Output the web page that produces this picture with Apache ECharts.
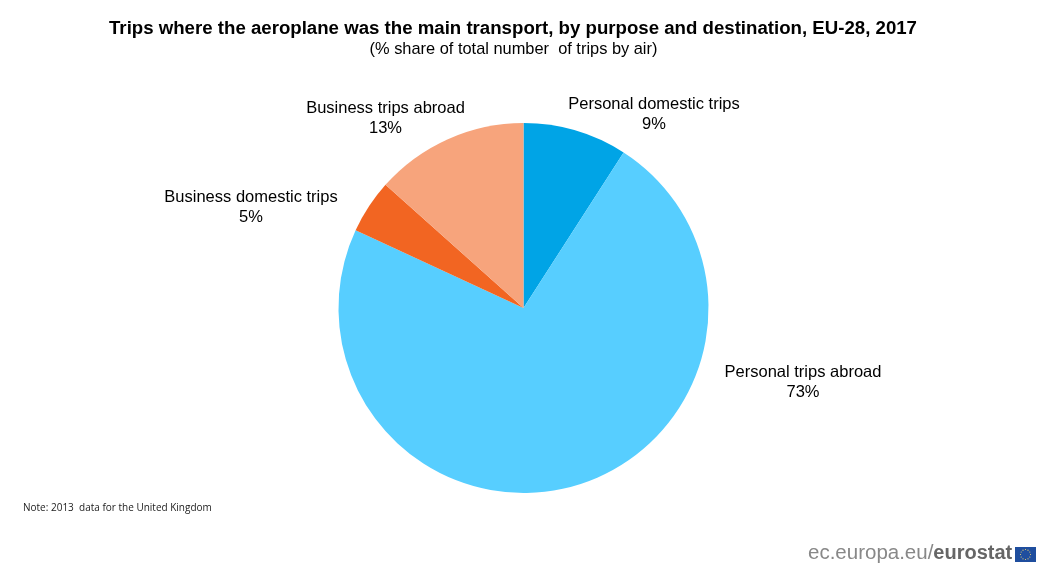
<!DOCTYPE html>
<html><head><meta charset="utf-8">
<style>html,body{margin:0;padding:0;background:#fff}#c{width:1050px;height:575px}</style>
<script src="https://cdn.jsdelivr.net/npm/echarts@6/dist/echarts.min.js"></script>
</head><body><div id="c"></div>
<script>
const categories = ['Personal domestic trips','Personal trips abroad','Business domestic trips','Business trips abroad'];
const values = [9.1,72.8,4.7,13.4];
const colors = ['#00A4E6','#57CEFF','#F26522','#F7A47C'];
const labelAnchors = [[654,114.6],[803,382.6],[251,207.6],[385.5,118.6]];
const chart = echarts.init(document.getElementById('c'),null,{renderer:'canvas'});
const F = '"Liberation Sans",Arial,sans-serif';
const starCount = 12;
const stars = Array.from({length:starCount},(_,i)=>{
  const a=i/starCount*2*Math.PI;
  return {type:'circle',silent:true,shape:{cx:1025.5+5*Math.cos(a),cy:554.5+5*Math.sin(a),r:0.55},style:{fill:'#F5D76E'}};
});
chart.setOption({
  animation:false,
  backgroundColor:'#fff',
  title:[
    {text:'Trips where the aeroplane was the main transport, by purpose and destination, EU-28, 2017',left:508,top:14,textAlign:'center',
     textStyle:{fontFamily:F,fontSize:18.65,fontWeight:'bold',color:'#000'}},
    {text:'(% share of total number  of trips by air)',left:508.5,top:36,textAlign:'center',
     textStyle:{fontFamily:F,fontSize:16.4,fontWeight:'normal',color:'#000'}}
  ],
  series:[{
    type:'pie',center:[523.5,308],radius:[0,185],startAngle:90,clockwise:true,
    data:categories.map((n,i)=>({name:n,value:values[i],itemStyle:{color:colors[i]}})),
    itemStyle:{borderColor:'#fff',borderWidth:0},
    emphasis:{disabled:true},
    label:{show:true,position:'outside',formatter:p=>p.name+'\n'+Math.round(p.value)+'%',fontFamily:F,fontSize:16.5,lineHeight:19.5,color:'#000',align:'center',verticalAlign:'middle'},
    labelLine:{show:false},
    labelLayout:p=>({x:labelAnchors[p.dataIndex][0],y:labelAnchors[p.dataIndex][1],align:'center',verticalAlign:'middle'})
  }],
  graphic:[
    {type:'text',left:23,top:503,silent:true,style:{text:'Note: 2013  data for the United Kingdom',font:'10px "Open Sans",sans-serif',fill:'#222'}},
    {type:'text',left:808,top:543,silent:true,style:{
      text:'{a|ec.europa.eu/}{b|eurostat}',
      rich:{a:{font:'20.5px "Liberation Sans",Arial,sans-serif',fill:'#888',color:'#888'},
            b:{font:'bold 20px "Liberation Sans",Arial,sans-serif',fill:'#666',color:'#666'}}}},
    {type:'rect',silent:true,shape:{x:1015,y:547,width:21,height:15},style:{fill:'#1F4E9E'}},
    ...stars
  ]
});
</script></body></html>
